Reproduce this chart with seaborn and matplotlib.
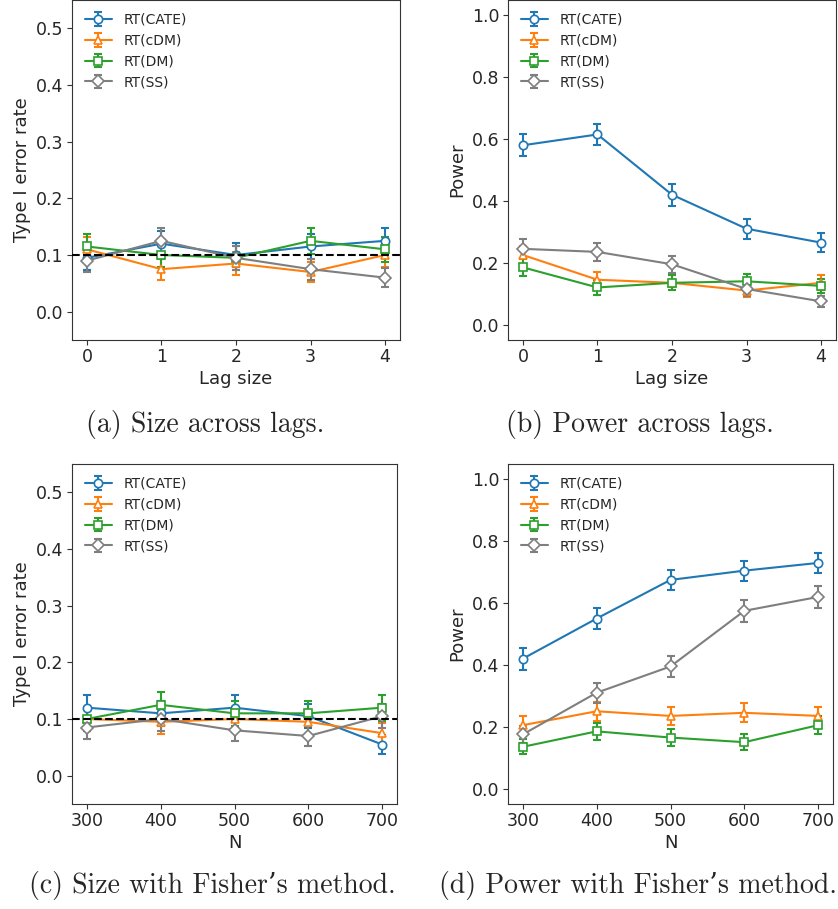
import numpy as np
import matplotlib
matplotlib.use("Agg")
import matplotlib.pyplot as plt
from matplotlib.lines import Line2D
from matplotlib.legend_handler import HandlerTuple
import seaborn as sns

sns.set_style("ticks")
plt.rcParams["font.family"] = ["DejaVu Sans"]
plt.rcParams["xtick.direction"] = "out"
plt.rcParams["ytick.direction"] = "out"

# Methods compared
methods = ["RT(CATE)", "RT(cDM)", "RT(DM)", "RT(SS)"]
colors = ["#1f77b4", "#ff7f0e", "#2ca02c", "#7f7f7f"]
markers = ["o", "^", "s", "D"]

# Monte Carlo replications behind each rejection rate
n_rep = 200

# x-axis values
lags = [0, 1, 2, 3, 4]
sample_sizes = [300, 400, 500, 600, 700]

# (a) rejection rate under the null, by lag
size_lag = {
    "RT(CATE)": [0.095, 0.120, 0.100, 0.115, 0.125],
    "RT(cDM)":  [0.110, 0.075, 0.085, 0.070, 0.100],
    "RT(DM)":   [0.115, 0.100, 0.095, 0.125, 0.110],
    "RT(SS)":   [0.090, 0.125, 0.095, 0.075, 0.060],
}

# (b) power, by lag
power_lag = {
    "RT(CATE)": [0.580, 0.615, 0.420, 0.310, 0.265],
    "RT(cDM)":  [0.225, 0.145, 0.135, 0.110, 0.135],
    "RT(DM)":   [0.185, 0.120, 0.135, 0.140, 0.125],
    "RT(SS)":   [0.245, 0.235, 0.195, 0.115, 0.075],
}

# (c) rejection rate under the null with Fisher's combination, by N
size_n = {
    "RT(CATE)": [0.120, 0.110, 0.120, 0.105, 0.055],
    "RT(cDM)":  [0.100, 0.095, 0.100, 0.095, 0.075],
    "RT(DM)":   [0.100, 0.125, 0.110, 0.110, 0.120],
    "RT(SS)":   [0.085, 0.100, 0.080, 0.070, 0.105],
}

# (d) power with Fisher's combination, by N
power_n = {
    "RT(CATE)": [0.420, 0.550, 0.675, 0.705, 0.730],
    "RT(cDM)":  [0.205, 0.250, 0.235, 0.245, 0.235],
    "RT(DM)":   [0.135, 0.185, 0.165, 0.150, 0.205],
    "RT(SS)":   [0.175, 0.310, 0.395, 0.575, 0.620],
}

W, H = 838, 909
fig = plt.figure(figsize=(W / 100, H / 100), dpi=100)


def px_axes(left, top, right, bottom):
    return fig.add_axes([left / W, 1 - bottom / H, (right - left) / W, (bottom - top) / H])


def panel(ax, x, data, ylabel, xlabel, ylim, yticks, nominal=None):
    handles = []
    for m, c, mk in zip(methods, colors, markers):
        p = np.asarray(data[m])
        se = np.sqrt(p * (1 - p) / n_rep)
        sns.lineplot(x=x, y=p, ax=ax, color=c, marker=mk, markersize=6,
                     markerfacecolor="white", markeredgecolor=c,
                     markeredgewidth=1.2, linewidth=1.5, errorbar=None,
                     legend=False, zorder=3)
        eb = ax.errorbar(x, p, yerr=se, fmt="none", ecolor=c, elinewidth=1.5,
                         capsize=3, capthick=1.5, zorder=2.5)
        proxy = Line2D([], [], color=c, marker=mk, markersize=6,
                       markerfacecolor="white", markeredgecolor=c,
                       markeredgewidth=1.2, linewidth=1.5)
        handles.append((eb, proxy))
    if nominal is not None:
        ax.axhline(nominal, color="k", linestyle="--", linewidth=1.5, zorder=4)
    ax.set_ylim(*ylim)
    ax.set_yticks(yticks)
    ax.set_xticks(x)
    ax.tick_params(labelsize=12.5, length=3.5, pad=2.5, color="#333333")
    ax.set_xlabel(xlabel, fontsize=13, labelpad=3)
    ax.set_ylabel(ylabel, fontsize=13, labelpad=4)
    ax.legend(handles, methods, handler_map={tuple: HandlerTuple(ndivide=1)},
              loc="upper left", frameon=False, fontsize=10)
    for s in ax.spines.values():
        s.set_color("#333333")


ax_a = px_axes(72, 0, 400, 340)
panel(ax_a, lags, size_lag, "Type I error rate", "Lag size",
      (-0.05, 0.55), [0.0, 0.1, 0.2, 0.3, 0.4, 0.5], nominal=0.1)

ax_b = px_axes(508, 0, 836, 340)
panel(ax_b, lags, power_lag, "Power", "Lag size",
      (-0.05, 1.05), [0.0, 0.2, 0.4, 0.6, 0.8, 1.0])

ax_c = px_axes(72, 464, 397, 804)
panel(ax_c, sample_sizes, size_n, "Type I error rate", "N",
      (-0.05, 0.55), [0.0, 0.1, 0.2, 0.3, 0.4, 0.5], nominal=0.1)

ax_d = px_axes(508, 464, 833, 804)
panel(ax_d, sample_sizes, power_n, "Power", "N",
      (-0.05, 1.05), [0.0, 0.2, 0.4, 0.6, 0.8, 1.0])

captions = [
    ("(a) Size across lags.", 205, 425),
    ("(b) Power across lags.", 640, 425),
    ("(c) Size with Fisher\u2019s method.", 212, 885),
    ("(d) Power with Fisher\u2019s method.", 638, 885),
]
for text, cx, cy in captions:
    fig.text(cx / W, 1 - cy / H, text, ha="center", va="center",
             fontsize=20, family=["cmr10", "DejaVu Serif"])

fig.savefig("out.png", dpi=100)
